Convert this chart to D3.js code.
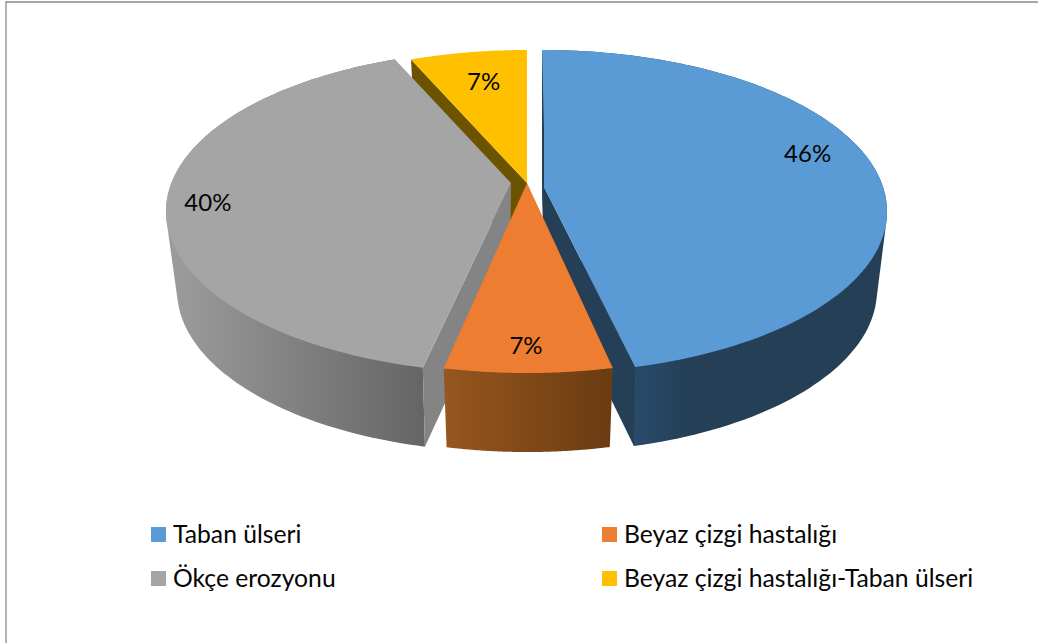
<!DOCTYPE html>
<html>
<head>
<meta charset="utf-8">
<script src="https://cdn.jsdelivr.net/npm/d3@7/dist/d3.min.js"></script>
<style>
html,body{margin:0;padding:0;background:#fff;overflow:hidden}
svg{display:block}
text{font-family:Lato,"Open Sans",sans-serif;fill:#050505}
</style>
</head>
<body>
<svg id="chart" width="1038" height="643"></svg>
<script>
// ---- data ----
const categories = ["Taban ülseri", "Beyaz çizgi hastalığı", "Ökçe erozyonu", "Beyaz çizgi hastalığı-Taban ülseri"];
const values = [46.4, 7.1, 40.1, 6.5];
const colors = ["#5b9bd5", "#ed7d31", "#a5a5a5", "#ffc000"];

// ---- layout ----
const svg = d3.select("#chart");
const W = 1038, H = 643;
const A = 339.6, B = 156.5, K = 0.1765, T = 79, S = 0.965;
const apexX = [542, 527, 511, 527], apexY = 183;
const lowerDx = [2, 0, -1, 0];
const deg = Math.PI / 180;
const startInset = [0, 1.06 * deg, 0, 0], endInset = [0, 0.7 * deg, 0, 0];
const wallColor = ["#243f56", "#6b3c13", "#848484", "#6b5300"];
const sideStops = [
  [["0", "#294a69"], ["0.24", "#243f56"], ["1", "#243f56"]],
  [["0", "#96561f"], ["1", "#6b3b12"]],
  [["0", "#9a9a9a"], ["1", "#656565"]],
  [["0", "#6b5300"], ["1", "#6b5300"]]
];
const labelNudge = [[0, -16], [-2, 16], [-29, 6], [5, 5]];

const pie = d3.pie().sort(null).startAngle(0).endAngle(2 * Math.PI);
const arcs = pie(values).map((d, i) => ({
  ...d, startAngle: d.startAngle + startInset[i], endAngle: d.endAngle - endInset[i]
}));
const fmt = v => Math.round(v) + "%";

// Perspective projection of a point of the pie disc, relative to its apex
function proj(angle, r) {
  const u = r * Math.sin(angle), v = r * Math.cos(angle), w = 1 + K * v;
  return [A * u / w, -B * v / w];
}
const top3 = (i, a, r = 1) => { const p = proj(a, r); return [apexX[i] + p[0], apexY + p[1]]; };
const low3 = (i, a) => { const p = proj(a, 1); return [apexX[i] + lowerDx[i] + p[0] * S, apexY + p[1] + T]; };
const samples = (a0, a1) => d3.range(0, 121).map(k => a0 + (a1 - a0) * k / 120);
const line = d3.line().curve(d3.curveLinear);
const poly = pts => line(pts) + "Z";

const defs = svg.append("defs");

// frame
svg.append("rect").attr("width", W).attr("height", H).attr("fill", "#fff");
svg.append("path").attr("d", line([[6, H], [6, 2], [W, 2]]))
   .attr("fill", "none").attr("stroke", "#8a8a8a").attr("stroke-width", 1.3);

function drawSide(i) {
  const d = arcs[i];
  const pts = samples(d.startAngle, d.endAngle);
  const all = pts.map(a => top3(i, a)).concat(pts.map(a => low3(i, a)));
  let x0, x1;
  if (i === 0) { x0 = low3(i, d.endAngle)[0]; x1 = x0 + 250; }
  else if (i === 2) { x1 = low3(i, d.startAngle)[0]; x0 = x1 - 247; }
  else { x0 = low3(i, d.endAngle)[0]; x1 = low3(i, d.startAngle)[0]; }
  const g = defs.append("linearGradient").attr("id", "side" + i)
    .attr("gradientUnits", "userSpaceOnUse")
    .attr("x1", x0).attr("x2", x1).attr("y1", 0).attr("y2", 0);
  sideStops[i].forEach(s => g.append("stop").attr("offset", s[0]).attr("stop-color", s[1]));
  svg.append("path").attr("d", poly(d3.polygonHull(all))).attr("fill", `url(#side${i})`);
}
function drawWall(i, angle) {
  const apex = [apexX[i], apexY];
  const lowApex = [apexX[i] + lowerDx[i], apexY + T];
  svg.append("path").attr("d", poly([apex, top3(i, angle), low3(i, angle), lowApex])).attr("fill", wallColor[i]);
}
function drawTop(i) {
  const d = arcs[i];
  const pts = samples(d.startAngle, d.endAngle).map(a => top3(i, a));
  svg.append("path").attr("d", poly([[apexX[i], apexY]].concat(pts))).attr("fill", colors[i]);
}

// painter's order, back to front
drawWall(3, arcs[3].startAngle); drawTop(3);
drawSide(0); drawWall(0, arcs[0].endAngle); drawTop(0); drawWall(0, arcs[0].startAngle);
drawSide(2); drawWall(2, arcs[2].startAngle); drawTop(2);
drawSide(1); drawTop(1);

// data labels
svg.append("g").selectAll("text").data(arcs).join("text")
  .attr("text-anchor", "middle").attr("dominant-baseline", "central")
  .attr("font-size", 24)
  .attr("x", (d, i) => top3(i, (d.startAngle + d.endAngle) / 2, 0.8)[0] + labelNudge[i][0])
  .attr("y", (d, i) => top3(i, (d.startAngle + d.endAngle) / 2, 0.8)[1] + labelNudge[i][1])
  .text(d => fmt(d.value));

// legend
const legX = d3.scalePoint().domain([0, 1]).range([151, 602]);
const legY = d3.scalePoint().domain([0, 1]).range([527, 571]);
const leg = svg.append("g").selectAll("g").data(categories).join("g")
  .attr("transform", (d, i) => `translate(${legX(i % 2)},${legY(Math.floor(i / 2))})`);
leg.append("rect").attr("width", 15).attr("height", 15).attr("fill", (d, i) => colors[i]);
leg.append("text").attr("x", 22).attr("y", 16).attr("font-size", 24.7).text(d => d);
</script>
</body>
</html>
